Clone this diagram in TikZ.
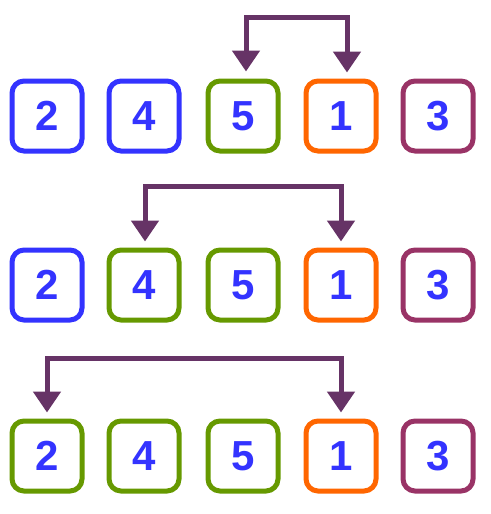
\documentclass[tikz,border=0pt]{standalone}
\usepackage{fontspec}
\setmainfont{Liberation Sans}
\usetikzlibrary{arrows.meta}
\definecolor{cblue}{HTML}{3333FF}
\definecolor{cgreen}{HTML}{669900}
\definecolor{corange}{HTML}{FF6600}
\definecolor{cplum}{HTML}{993366}
\definecolor{carrow}{HTML}{663366}
\tikzset{
  cell/.style={draw=#1, line width=5pt, rounded corners=12pt, minimum size=70pt,
    inner sep=0pt, text=cblue, font=\fontsize{42}{42}\selectfont\bfseries},
  swaparrow/.style={carrow, line width=5pt,
    {Triangle[width=27pt,length=21pt]}-{Triangle[width=27pt,length=21pt]}}
}
\begin{document}
\begin{tikzpicture}[x=1pt,y=1pt]
\useasboundingbox (0,0) rectangle (490,-514);
% three rows of five cells
\foreach \r/\y/\ca/\cb/\cc in {1/-116/cblue/cblue/cgreen, 2/-285/cblue/cgreen/cgreen, 3/-456/cgreen/cgreen/cgreen}{
  \node[cell=\ca] (r\r c1) at (47,\y) {2};
  \node[cell=\cb] (r\r c2) at (144,\y) {4};
  \node[cell=\cc] (r\r c3) at (243,\y) {5};
  \node[cell=corange] (r\r c4) at (341,\y) {1};
  \node[cell=cplum] (r\r c5) at (438,\y) {3};
}
% swap arrows
\draw[swaparrow] ([xshift=3pt,yshift=7pt]r1c3.north) -- ++(0,54) -| ([xshift=6pt,yshift=6pt]r1c4.north);
\draw[swaparrow] ([xshift=1pt,yshift=6pt]r2c2.north) -- ++(0,55) -| ([yshift=6pt]r2c4.north);
\draw[swaparrow] ([yshift=6pt]r3c1.north) -- ++(0,54) -| ([yshift=6pt]r3c4.north);
\end{tikzpicture}
\end{document}
